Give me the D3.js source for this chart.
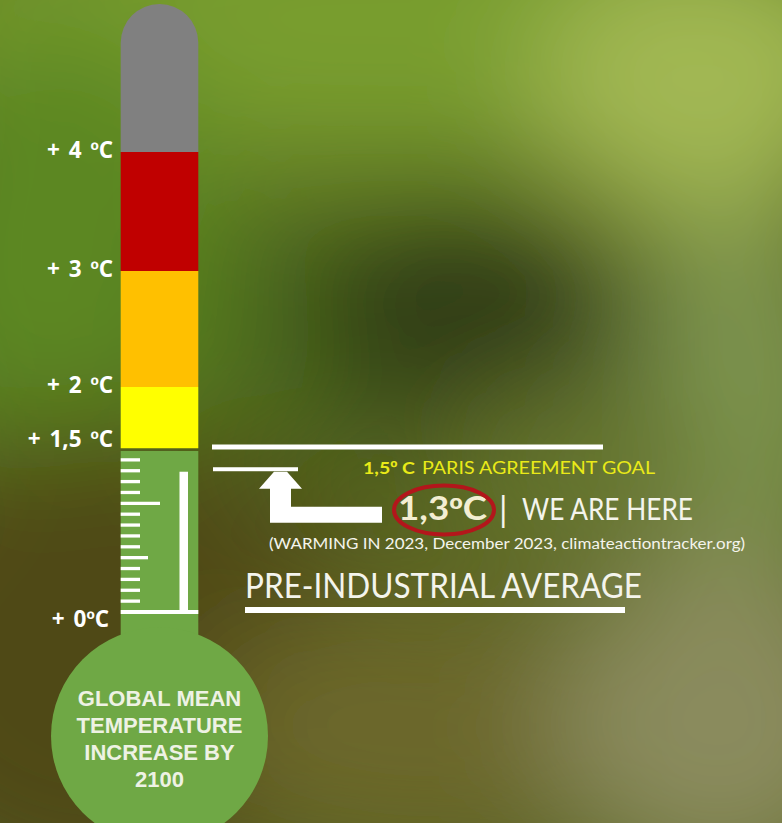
<!DOCTYPE html>
<html>
<head>
<meta charset="utf-8">
<script src="https://cdn.jsdelivr.net/npm/d3@7"></script>
<style>
  html, body { margin: 0; padding: 0; background: #55621e; overflow: hidden; }
</style>
</head>
<body>
<svg id="chart"></svg>
<script>
// temperature marks on the thermometer
const tickValues = [4, 3, 2, 1.5, 0];
const tickLabels = ["+ 4 ºC", "+ 3 ºC", "+ 2 ºC", "+ 1,5 ºC", "+ 0ºC"];

// coloured bands of the tube (from / to, in ºC)
const bandNames = ["above 4", "3 to 4", "2 to 3", "1.5 to 2"];
const bandFrom = [4, 3, 2, 1.5];
const bandTo = [5, 4, 3, 2];

const parisGoal = 1.5;
const currentWarming = 1.3;

const bulbLines = ["GLOBAL MEAN", "TEMPERATURE", "INCREASE BY", "2100"];
const goalValue = "1,5º C";
const goalLabel = "PARIS AGREEMENT GOAL";
const hereValue = "1,3ºC";
const hereLabel = "WE ARE HERE";
const sourceLabel = "(WARMING IN 2023, December 2023, climateactiontracker.org)";
const baseLabel = "PRE-INDUSTRIAL AVERAGE";

const width = 782;
const height = 823;

const svg = d3.select("#chart")
  .attr("width", width)
  .attr("height", height)
  .attr("viewBox", [0, 0, width, height]);

// write a label, drawing "º" with a font whose ordinal has the bar under it
function ordinalText(sel, str) {
  str.split(/(º)/).filter(s => s.length).forEach(part => {
    const t = sel.append("tspan").text(part);
    if (part === "º") t.attr("font-family", "'Liberation Sans', Arial, sans-serif");
  });
  return sel;
}

// ---- blurred photo-like background
const defs = svg.append("defs");
defs.append("filter")
  .attr("id", "blur")
  .attr("x", "-50%").attr("y", "-50%").attr("width", "200%").attr("height", "200%")
  .append("feGaussianBlur")
  .attr("stdDeviation", 60);

svg.append("rect").attr("width", width).attr("height", height).attr("fill", "#55621e");

const blobs = [
  { cx: 400, cy: 20, rx: 520, ry: 150, c: "#789d2e" },
  { cx: 60, cy: 260, rx: 170, ry: 240, c: "#5b8722" },
  { cx: 700, cy: 90, rx: 170, ry: 140, c: "#a2b852" },
  { cx: 300, cy: 330, rx: 120, ry: 120, c: "#4d6c1f" },
  { cx: 470, cy: 320, rx: 170, ry: 110, c: "#2d3b17" },
  { cx: 740, cy: 400, rx: 110, ry: 200, c: "#7e9450" },
  { cx: 100, cy: 660, rx: 260, ry: 240, c: "#4f4a13" },
  { cx: 430, cy: 730, rx: 230, ry: 130, c: "#6c682c" },
  { cx: 720, cy: 720, rx: 170, ry: 170, c: "#8a8b5d" },
  { cx: 580, cy: 470, rx: 140, ry: 90, c: "#66762f" }
];
svg.append("g")
  .attr("filter", "url(#blur)")
  .selectAll("ellipse")
  .data(blobs)
  .join("ellipse")
    .attr("cx", d => d.cx).attr("cy", d => d.cy)
    .attr("rx", d => d.rx).attr("ry", d => d.ry)
    .attr("fill", d => d.c);

// ---- thermometer scale (schematic, piecewise linear like the original)
const y = d3.scaleLinear()
  .domain([0, 1.5, 2, 3, 4, 5])
  .range([612, 449, 387, 271, 152, 4]);

const x0 = 120.7, x1 = 198.3;
const r = (x1 - x0) / 2;
const cx = (x0 + x1) / 2;

const color = d3.scaleOrdinal()
  .domain(bandNames)
  .range(["#808080", "#c00000", "#ffc000", "#ffff00"]);

const thermo = svg.append("g");

thermo.selectAll("path.band")
  .data(bandNames)
  .join("path")
    .attr("class", "band")
    .attr("fill", d => color(d))
    .attr("d", (d, i) => {
      const top = y(bandTo[i]);
      const bot = y(bandFrom[i]) - (bandFrom[i] === parisGoal ? 0.7 : 0);
      if (i === 0) {
        return `M${x0},${bot}V${top + r}A${r},${r} 0 0 1 ${x1},${top + r}V${bot}Z`;
      }
      return `M${x0},${top}H${x1}V${bot}H${x0}Z`;
    });

// green part: lower tube + bulb
const green = "#6fa845";
const bulbCy = 736, bulbR = 108.5;
thermo.append("rect")
  .attr("x", x0).attr("width", x1 - x0)
  .attr("y", y(parisGoal) + 2)
  .attr("height", bulbCy - y(parisGoal) - 2)
  .attr("fill", green);
thermo.append("circle")
  .attr("cx", cx).attr("cy", bulbCy).attr("r", bulbR)
  .attr("fill", green);

// minor ticks 0.1 .. 1.4
const minor = d3.scaleLinear().domain([0, parisGoal]).ticks(15)
  .filter(t => t > 0 && t < parisGoal);
thermo.append("g")
  .selectAll("line")
  .data(minor)
  .join("line")
    .attr("x1", x0)
    .attr("x2", d => Math.abs(d - 1) < 1e-6 ? 160 : Math.abs(d - 0.5) < 1e-6 ? 148 : 140)
    .attr("y1", d => y(d)).attr("y2", d => y(d))
    .attr("stroke", "#ffffff")
    .attr("stroke-width", 3.3);

// zero line and current level bar
thermo.append("line")
  .attr("x1", x0).attr("x2", x1)
  .attr("y1", y(0)).attr("y2", y(0))
  .attr("stroke", "#ffffff").attr("stroke-width", 4);
thermo.append("rect")
  .attr("x", 179.5).attr("width", 8.5)
  .attr("y", y(currentWarming) + 1)
  .attr("height", y(0) - y(currentWarming) - 1)
  .attr("fill", "#ffffff");

// left labels
svg.append("g")
  .selectAll("text")
  .data(tickValues)
  .join("text")
    .attr("x", d => d === 0 ? 109 : 113)
    .attr("y", d => y(d) + (d === 0 ? 15 : d === parisGoal ? -2 : 6))
    .attr("text-anchor", "end")
    .attr("font-family", "'Open Sans', sans-serif")
    .attr("font-weight", 700)
    .attr("font-size", 22.5)
    .attr("word-spacing", 3)
    .attr("fill", "#ffffff")
    .each(function(d, i) { ordinalText(d3.select(this), tickLabels[i]); });

// bulb text
svg.append("g")
  .selectAll("text")
  .data(bulbLines)
  .join("text")
    .attr("x", cx)
    .attr("y", (d, i) => 706 + i * 27)
    .attr("text-anchor", "middle")
    .attr("font-family", "'Liberation Sans', Arial, sans-serif")
    .attr("font-weight", 700)
    .attr("font-size", 22)
    .attr("fill", "#eef2e4")
    .text(d => d);

// ---- annotations on the right
const ann = svg.append("g").attr("font-family", "Lato, sans-serif");
const yGoal = y(parisGoal);
const yNow = y(currentWarming);

ann.append("rect")
  .attr("x", 212).attr("width", 391)
  .attr("y", yGoal - 4.5).attr("height", 5)
  .attr("fill", "#ffffff");
ann.append("rect")
  .attr("x", 213).attr("width", 85)
  .attr("y", yNow - 3.5).attr("height", 4)
  .attr("fill", "#ffffff");

// L-shaped arrow pointing up to the current level
ann.append("path")
  .attr("fill", "#ffffff")
  .attr("d", d3.line()([
    [274, yNow + 1], [287, yNow + 1], [302, yNow + 18], [291, yNow + 18],
    [291, yNow + 36], [382, yNow + 36], [382, yNow + 52], [270, yNow + 52],
    [270, yNow + 18], [259, yNow + 18]
  ]) + "Z");

ordinalText(ann.append("text")
  .attr("x", 363).attr("y", yGoal + 25)
  .attr("font-size", 17).attr("font-weight", 700)
  .attr("fill", "#eaea18")
  .attr("textLength", 52).attr("lengthAdjust", "spacingAndGlyphs"), goalValue);
ann.append("text")
  .attr("x", 422).attr("y", yGoal + 25)
  .attr("font-size", 17)
  .attr("fill", "#eaea18")
  .attr("textLength", 233).attr("lengthAdjust", "spacingAndGlyphs")
  .text(goalLabel);

ordinalText(ann.append("text")
  .attr("x", 398).attr("y", 520)
  .attr("font-size", 32).attr("font-weight", 700)
  .attr("fill", "#f3eed2")
  .attr("textLength", 89).attr("lengthAdjust", "spacingAndGlyphs"), hereValue);
ann.append("ellipse")
  .attr("cx", 444).attr("cy", 510)
  .attr("rx", 50).attr("ry", 24.5)
  .attr("fill", "none")
  .attr("stroke", "#b3161b")
  .attr("stroke-width", 4);
ann.append("text")
  .attr("x", 499).attr("y", 522)
  .attr("font-size", 34)
  .attr("fill", "#f4f4ec")
  .text("|");
ann.append("text")
  .attr("x", 522).attr("y", 520)
  .attr("font-size", 30.5)
  .attr("fill", "#f4f4ec")
  .attr("textLength", 171).attr("lengthAdjust", "spacingAndGlyphs")
  .text(hereLabel);

ann.append("text")
  .attr("x", 269).attr("y", 549)
  .attr("font-size", 15.5)
  .attr("fill", "#f4f4ec")
  .attr("textLength", 476).attr("lengthAdjust", "spacingAndGlyphs")
  .text(sourceLabel);

ann.append("text")
  .attr("x", 245).attr("y", 598)
  .attr("font-size", 35)
  .attr("fill", "#f4f4ec")
  .attr("textLength", 397).attr("lengthAdjust", "spacingAndGlyphs")
  .text(baseLabel);
ann.append("rect")
  .attr("x", 245).attr("width", 380)
  .attr("y", 607).attr("height", 6)
  .attr("fill", "#ffffff");
</script>
</body>
</html>
